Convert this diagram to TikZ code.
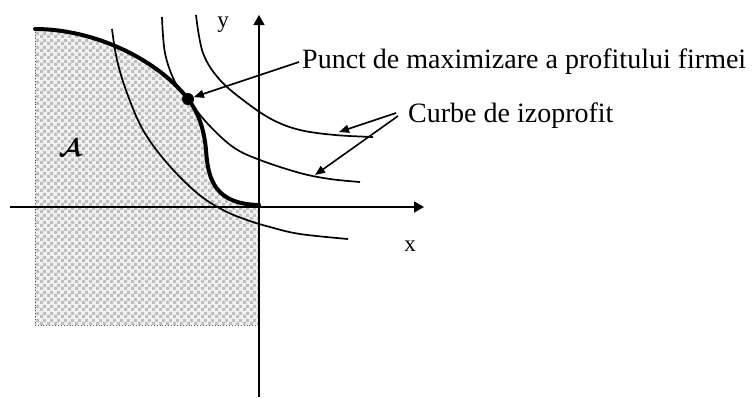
\documentclass[tikz,border=0pt]{standalone}
\usepackage{fontspec}
\setmainfont{Liberation Serif}
\usetikzlibrary{arrows.meta,patterns}
\pgfdeclarepatternformonly{mychecker}{\pgfpointorigin}{\pgfqpoint{6.6pt}{6.6pt}}{\pgfqpoint{6.6pt}{6.6pt}}{%
  \pgfpathrectangle{\pgfpointorigin}{\pgfqpoint{3.3pt}{3.3pt}}%
  \pgfpathrectangle{\pgfqpoint{3.3pt}{3.3pt}}{\pgfqpoint{3.3pt}{3.3pt}}%
  \pgfusepath{fill}}
\begin{document}
\begin{tikzpicture}[x=1pt,y=-1pt,
  thin curve/.style={line width=1.7pt},
  frontier/.style={line width=4pt,line cap=round,line join=round},
  axis/.style={line width=1.6pt,-{Triangle[length=10pt,width=11pt]}},
  arr/.style={line width=1.6pt,-{Triangle[length=10pt,width=8pt]}},
  lbl/.style={font=\fontsize{28}{30}\selectfont,inner sep=0pt},
  axlbl/.style={font=\fontsize{23}{25}\selectfont,inner sep=0pt},
  dotnode/.style={circle,fill=black,inner sep=0pt,minimum size=12pt}]
\useasboundingbox (0,0) rectangle (755,397);
% shaded region
\fill[gray!10] (35,325) -- (35,29) .. controls (95,29) and (158,60) .. (188,99)
  .. controls (198,112) and (204,128) .. (206,150)
  .. controls (208,180) and (215,204) .. (259,205) -- (259,325) -- cycle;
\fill[pattern=mychecker,pattern color=gray!50] (35,325) -- (35,29) .. controls (95,29) and (158,60) .. (188,99)
  .. controls (198,112) and (204,128) .. (206,150)
  .. controls (208,180) and (215,204) .. (259,205) -- (259,325) -- cycle;
\draw[gray!70!black,line width=0.9pt,dotted] (35,29) -- (35,325) -- (259,325);
% axes
\coordinate (xs) at (10,207);
\coordinate (xe) at (424,207);
\coordinate (ys) at (259,397);
\coordinate (ye) at (259,15);
\draw[axis] (xs) -- (xe);
\draw[axis] (ys) -- (ye);
\node[axlbl] (ylab) at (223,25) {y};
\node[axlbl] (xlab) at (410,246) {x};
% isoprofit curves
\draw[thin curve] plot[smooth,tension=0.6] coordinates {(112,29) (117,60) (127,93) (143,130) (167,163) (197,193) (223,210) (247,220) (270,227) (300,234) (348,239)};
\draw[thin curve] plot[smooth,tension=0.6] coordinates {(162,17) (165,53) (175,82) (188,99) (207,123) (233,147) (260,160) (300,173) (330,179) (360,182)};
\draw[thin curve] plot[smooth,tension=0.6] coordinates {(196,15) (203,53) (220,80) (247,103) (273,120) (300,130) (335,135) (373,137)};
% frontier
\draw[frontier] (35,29) .. controls (95,29) and (158,60) .. (188,99)
  .. controls (198,112) and (204,128) .. (206,150)
  .. controls (208,180) and (215,204) .. (259,205);
\node[dotnode] (pt) at (188,99) {};
% labels
\node[lbl,anchor=base west] (punct) at (302,68) {Punct de maximizare a profitului firmei};
\node[lbl,anchor=base west] (curbe) at (408,122) {Curbe de izoprofit};
\node[font=\fontsize{26}{28}\selectfont\boldmath] (A) at (70,148) {$\mathcal{A}$};
% leaders
\coordinate (pstart) at (299,62);
\draw[arr] (pstart) -- (pt);
\coordinate (c1) at (396,113);
\coordinate (c2) at (398,116);
\coordinate (t1) at (339,132);
\coordinate (t2) at (315,175);
\draw[arr] (c1) -- (t1);
\draw[arr] (c2) -- (t2);
\end{tikzpicture}
\end{document}
